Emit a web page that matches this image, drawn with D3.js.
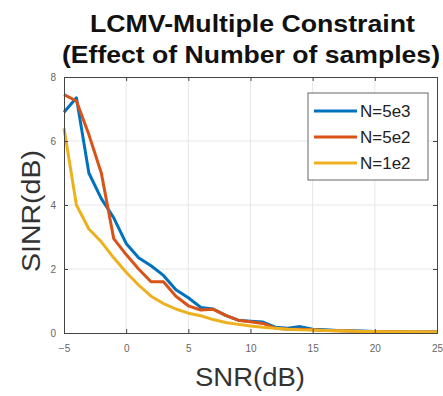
<!DOCTYPE html>
<html><head><meta charset="utf-8">
<script src="https://cdn.jsdelivr.net/npm/d3@7"></script>
<style>body{margin:0;background:#fff}svg{display:block}</style>
</head><body>
<script>
const snr = d3.range(-5, 26, 1);
const seriesNames = ["N=5e3", "N=5e2", "N=1e2"];
const sinr5e3 = [6.9, 7.35, 5.0, 4.2, 3.6, 2.8, 2.35, 2.1, 1.8, 1.35, 1.1, 0.8, 0.75, 0.55, 0.4, 0.37, 0.34, 0.18, 0.15, 0.2, 0.12, 0.1, 0.08, 0.07, 0.06, 0.05, 0.04, 0.04, 0.03, 0.03, 0.03];
const sinr5e2 = [7.45, 7.25, 6.2, 5.0, 2.95, 2.45, 2.0, 1.6, 1.6, 1.15, 0.85, 0.72, 0.74, 0.55, 0.4, 0.35, 0.3, 0.15, 0.12, 0.12, 0.1, 0.08, 0.07, 0.06, 0.05, 0.05, 0.04, 0.04, 0.03, 0.03, 0.03];
const sinr1e2 = [6.4, 4.0, 3.25, 2.85, 2.35, 1.9, 1.5, 1.15, 0.92, 0.75, 0.62, 0.54, 0.42, 0.33, 0.27, 0.22, 0.18, 0.15, 0.12, 0.1, 0.09, 0.08, 0.07, 0.06, 0.05, 0.05, 0.04, 0.04, 0.04, 0.03, 0.03];
const xTicks = [-5, 0, 5, 10, 15, 20, 25];
const yTicks = [0, 2, 4, 6, 8];
const colors = ["#0072BD", "#D95319", "#EDB120"];
const allSeries = [sinr5e3, sinr5e2, sinr1e2];

const W = 443, H = 396;
const L = 64, R = 437, T = 77, B = 333;
const svg = d3.select("body").append("svg").attr("width", W).attr("height", H);
const x = d3.scaleLinear().domain([-5, 25]).range([L, R]);
const y = d3.scaleLinear().domain([0, 8]).range([B, T]);

// grid
const g = svg.append("g");
g.selectAll(".gx").data(xTicks.slice(1, -1)).enter().append("line")
  .attr("x1", d => x(d)).attr("x2", d => x(d)).attr("y1", T).attr("y2", B)
  .attr("stroke", "#e6e6e6").attr("stroke-width", 1);
g.selectAll(".gy").data(yTicks.slice(1, -1)).enter().append("line")
  .attr("y1", d => y(d)).attr("y2", d => y(d)).attr("x1", L).attr("x2", R)
  .attr("stroke", "#e6e6e6").attr("stroke-width", 1);

// lines
const line = d3.line().x((d, i) => x(snr[i])).y(d => y(d));
allSeries.forEach((s, k) => {
  svg.append("path").datum(s).attr("d", line).attr("fill", "none")
    .attr("stroke", colors[k]).attr("stroke-width", 3).attr("stroke-linejoin", "round");
});

// axes
const xAx = svg.append("g").attr("transform", `translate(0,${B})`)
  .call(d3.axisBottom(x).tickValues(xTicks).tickSize(-4).tickPadding(12));
const xAxT = svg.append("g").attr("transform", `translate(0,${T})`)
  .call(d3.axisTop(x).tickValues(xTicks).tickSize(-4).tickFormat(""));
const yAx = svg.append("g").attr("transform", `translate(${L},0)`)
  .call(d3.axisLeft(y).tickValues(yTicks).tickSize(-4).tickPadding(8));
const yAxR = svg.append("g").attr("transform", `translate(${R},0)`)
  .call(d3.axisRight(y).tickValues(yTicks).tickSize(-4).tickFormat(""));
[xAx, xAxT, yAx, yAxR].forEach(a => {
  a.select(".domain").attr("stroke", "#444").attr("stroke-width", 1);
  a.selectAll(".tick line").attr("stroke", "#444");
  a.selectAll("text").attr("fill", "#666").style("font-family", "Liberation Sans, Arial, sans-serif").style("font-size", "10px");
});

// legend
const lg = svg.append("g");
lg.append("rect").attr("x", 308).attr("y", 93).attr("width", 120).attr("height", 87)
  .attr("fill", "#fff").attr("stroke", "#666").attr("stroke-width", 1);
seriesNames.forEach((n, k) => {
  const yy = 111 + k * 26;
  lg.append("line").attr("x1", 314).attr("x2", 357).attr("y1", yy).attr("y2", yy)
    .attr("stroke", colors[k]).attr("stroke-width", 3);
  lg.append("text").attr("x", 360).attr("y", yy + 6).text(n)
    .attr("fill", "#222").style("font-family", "Liberation Sans, Arial, sans-serif").style("font-size", "17px");
});

// title
const tf = "Liberation Sans, Arial, sans-serif";
svg.append("text").attr("x", 90).attr("y", 32)
  .attr("textLength", 325).attr("lengthAdjust", "spacingAndGlyphs")
  .style("font-family", tf).style("font-weight", "bold").style("font-size", "23px").attr("fill", "#111")
  .text("LCMV-Multiple Constraint");
svg.append("text").attr("x", 62).attr("y", 63)
  .attr("textLength", 378).attr("lengthAdjust", "spacingAndGlyphs")
  .style("font-family", tf).style("font-weight", "bold").style("font-size", "23px").attr("fill", "#111")
  .text("(Effect of Number of samples)");

// axis labels
svg.append("text").attr("x", 195).attr("y", 386)
  .attr("textLength", 110).attr("lengthAdjust", "spacingAndGlyphs")
  .style("font-family", tf).style("font-size", "26px").attr("fill", "#333").text("SNR(dB)");
svg.append("text").attr("transform", `translate(40,272) rotate(-90)`)
  .attr("textLength", 122).attr("lengthAdjust", "spacingAndGlyphs")
  .style("font-family", tf).style("font-size", "25px").attr("fill", "#333").text("SINR(dB)");
</script>
</body></html>
